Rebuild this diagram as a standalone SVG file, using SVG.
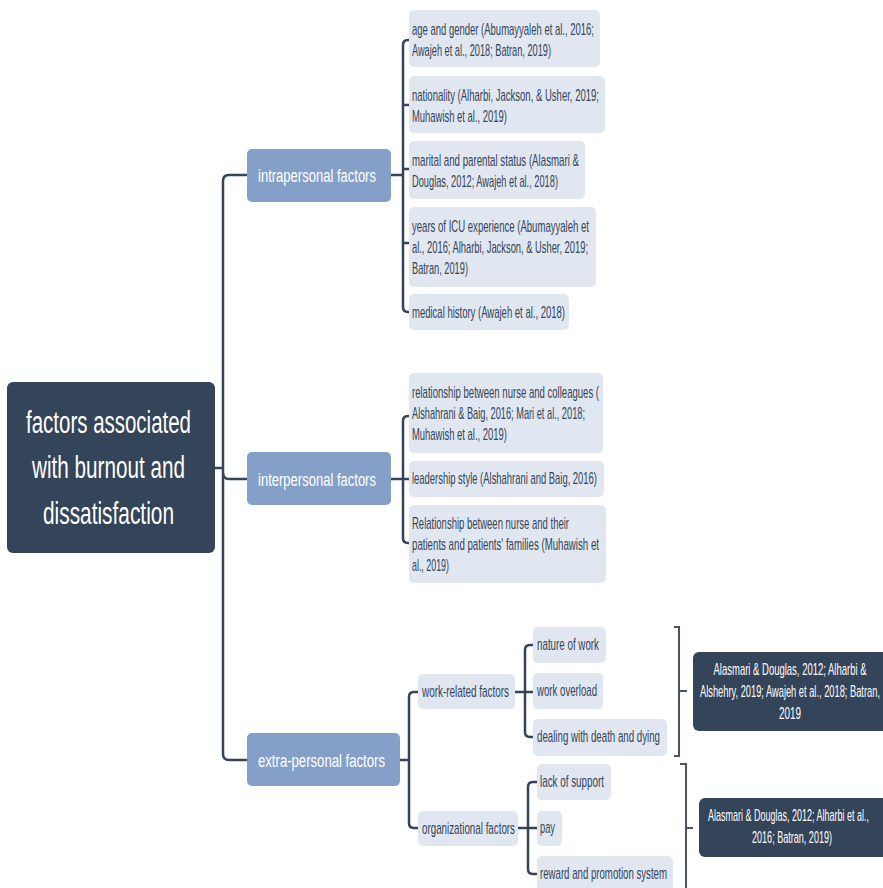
<svg xmlns="http://www.w3.org/2000/svg" width="883" height="888" viewBox="0 0 883 888">
<style>
.root{fill:#344459}
.l1{fill:#84A0C8}
.l2{fill:#E1E7F0}
.sum{fill:#344459}
text{font-family:"Liberation Sans",Arial,sans-serif}
.tr{fill:#ffffff;font-size:31px;text-anchor:middle}
.t1{fill:#ffffff;font-size:19px}
.t2{fill:#344459;font-size:16px}
.ts{fill:#ffffff;font-size:16px;text-anchor:middle}
.c{fill:none;stroke:#344459;stroke-width:2.5;stroke-linecap:butt;stroke-linejoin:round}
.b{fill:none;stroke:#4A5568;stroke-width:2}
</style>
<rect width="883" height="888" fill="#ffffff"/>
<g id="connectors">
<path class="c" d="M214 468 H223"/>
<path class="c" d="M247 175 H229 Q223 175 223 181 V754 Q223 760 229 760 H247"/>
<path class="c" d="M223 473 Q223 479 229 479 H247"/>
<path class="c" d="M391 175 H403"/>
<path class="c" d="M409 40 H408 Q403 40 403 45 V307 Q403 312 408 312 H409"/>
<path class="c" d="M403 105 H409 M403 169 H409 M403 243 H409"/>
<path class="c" d="M391 479 H409"/>
<path class="c" d="M409 416 H408 Q403 416 403 421 V538 Q403 543 408 543 H409"/>
<path class="c" d="M400 760 H409"/>
<path class="c" d="M418 692 H414 Q409 692 409 697 V823 Q409 828 414 828 H418"/>
<path class="c" d="M515 692 H533"/>
<path class="c" d="M533 645 H530 Q525 645 525 650 V732 Q525 737 530 737 H533"/>
<path class="c" d="M518 828 H537"/>
<path class="c" d="M537 782 H533 Q528 782 528 787 V869 Q528 874 533 874 H537"/>
<path class="b" d="M674 627 H679 V756 H674 M679 691 H687"/>
<path class="b" d="M680 764 H686 V895 M686 828 H693"/>
</g>
<g id="root">
<rect class="root" x="7" y="382" width="208" height="171" rx="6"/>
<text class="tr" transform="translate(108.5 433) scale(0.6 1)" textLength="275" lengthAdjust="spacingAndGlyphs">factors associated</text>
<text class="tr" transform="translate(108.5 478) scale(0.6 1)" textLength="255" lengthAdjust="spacingAndGlyphs">with burnout and</text>
<text class="tr" transform="translate(108.5 524) scale(0.6 1)" textLength="218.3" lengthAdjust="spacingAndGlyphs">dissatisfaction</text>
</g>
<g id="intrapersonal">
<rect class="l1" x="247" y="149" width="144" height="53" rx="5"/>
<text class="t1" transform="translate(258 182) scale(0.65 1)" textLength="181.5" lengthAdjust="spacingAndGlyphs">intrapersonal factors</text>
</g>
<g id="interpersonal">
<rect class="l1" x="247" y="452" width="144" height="53" rx="5"/>
<text class="t1" transform="translate(258 486) scale(0.65 1)" textLength="181.5" lengthAdjust="spacingAndGlyphs">interpersonal factors</text>
</g>
<g id="extrapersonal">
<rect class="l1" x="247" y="733" width="153" height="53" rx="5"/>
<text class="t1" transform="translate(258 767) scale(0.65 1)" textLength="195.4" lengthAdjust="spacingAndGlyphs">extra-personal factors</text>
</g>
<g id="age">
<rect class="l2" x="409" y="10" width="191" height="57" rx="5"/>
<text class="t2" transform="translate(412 35) scale(0.6 1)" textLength="303.3" lengthAdjust="spacingAndGlyphs">age and gender (Abumayyaleh et al., 2016;</text>
<text class="t2" transform="translate(412 56) scale(0.6 1)" textLength="231.7" lengthAdjust="spacingAndGlyphs">Awajeh et al., 2018; Batran, 2019)</text>
</g>
<g id="nationality">
<rect class="l2" x="409" y="76" width="196" height="57" rx="5"/>
<text class="t2" transform="translate(412 101) scale(0.6 1)" textLength="311.7" lengthAdjust="spacingAndGlyphs">nationality (Alharbi, Jackson, &amp; Usher, 2019;</text>
<text class="t2" transform="translate(412 122) scale(0.6 1)" textLength="158.3" lengthAdjust="spacingAndGlyphs">Muhawish et al., 2019)</text>
</g>
<g id="marital">
<rect class="l2" x="409" y="141" width="176" height="58" rx="5"/>
<text class="t2" transform="translate(412 166) scale(0.6 1)" textLength="278.3" lengthAdjust="spacingAndGlyphs">marital and parental status (Alasmari &amp;</text>
<text class="t2" transform="translate(412 187) scale(0.6 1)" textLength="243.3" lengthAdjust="spacingAndGlyphs">Douglas, 2012; Awajeh et al., 2018)</text>
</g>
<g id="years">
<rect class="l2" x="409" y="207" width="187" height="80" rx="5"/>
<text class="t2" transform="translate(412 232) scale(0.6 1)" textLength="295" lengthAdjust="spacingAndGlyphs">years of ICU experience (Abumayyaleh et</text>
<text class="t2" transform="translate(412 253) scale(0.6 1)" textLength="293.3" lengthAdjust="spacingAndGlyphs">al., 2016; Alharbi, Jackson, &amp; Usher, 2019;</text>
<text class="t2" transform="translate(412 274) scale(0.6 1)" textLength="93.3" lengthAdjust="spacingAndGlyphs">Batran, 2019)</text>
</g>
<g id="medical">
<rect class="l2" x="409" y="294" width="160" height="36" rx="5"/>
<text class="t2" transform="translate(412 318) scale(0.6 1)" textLength="255" lengthAdjust="spacingAndGlyphs">medical history (Awajeh et al., 2018)</text>
</g>
<g id="colleagues">
<rect class="l2" x="409" y="373" width="194" height="80" rx="5"/>
<text class="t2" transform="translate(412 398) scale(0.6 1)" textLength="311.7" lengthAdjust="spacingAndGlyphs">relationship between nurse and colleagues (</text>
<text class="t2" transform="translate(412 419) scale(0.6 1)" textLength="288.3" lengthAdjust="spacingAndGlyphs">Alshahrani &amp; Baig, 2016; Mari et al., 2018;</text>
<text class="t2" transform="translate(412 440) scale(0.6 1)" textLength="158.3" lengthAdjust="spacingAndGlyphs">Muhawish et al., 2019)</text>
</g>
<g id="leadership">
<rect class="l2" x="409" y="461" width="195" height="36" rx="5"/>
<text class="t2" transform="translate(412 484) scale(0.6 1)" textLength="308.3" lengthAdjust="spacingAndGlyphs">leadership style (Alshahrani and Baig, 2016)</text>
</g>
<g id="patients">
<rect class="l2" x="409" y="505" width="197" height="78" rx="5"/>
<text class="t2" transform="translate(412 529) scale(0.6 1)" textLength="261.7" lengthAdjust="spacingAndGlyphs">Relationship between nurse and their</text>
<text class="t2" transform="translate(412 550) scale(0.6 1)" textLength="311.7" lengthAdjust="spacingAndGlyphs">patients and patients' families (Muhawish et</text>
<text class="t2" transform="translate(412 571) scale(0.6 1)" textLength="61.7" lengthAdjust="spacingAndGlyphs">al., 2019)</text>
</g>
<g id="workrelated">
<rect class="l2" x="418" y="674" width="97" height="35" rx="5"/>
<text class="t2" transform="translate(422 697) scale(0.6 1)" textLength="145" lengthAdjust="spacingAndGlyphs">work-related factors</text>
</g>
<g id="organizational">
<rect class="l2" x="418" y="811" width="100" height="35" rx="5"/>
<text class="t2" transform="translate(422 834) scale(0.6 1)" textLength="155" lengthAdjust="spacingAndGlyphs">organizational factors</text>
</g>
<g id="nature">
<rect class="l2" x="533" y="627" width="73" height="36" rx="5"/>
<text class="t2" transform="translate(537 650) scale(0.6 1)" textLength="103.3" lengthAdjust="spacingAndGlyphs">nature of work</text>
</g>
<g id="overload">
<rect class="l2" x="533" y="673" width="70" height="36" rx="5"/>
<text class="t2" transform="translate(537 696) scale(0.6 1)" textLength="100" lengthAdjust="spacingAndGlyphs">work overload</text>
</g>
<g id="death">
<rect class="l2" x="533" y="719" width="134" height="37" rx="5"/>
<text class="t2" transform="translate(537 742) scale(0.6 1)" textLength="205" lengthAdjust="spacingAndGlyphs">dealing with death and dying</text>
</g>
<g id="support">
<rect class="l2" x="537" y="764" width="74" height="36" rx="5"/>
<text class="t2" transform="translate(540 787) scale(0.6 1)" textLength="106.7" lengthAdjust="spacingAndGlyphs">lack of support</text>
</g>
<g id="pay">
<rect class="l2" x="537" y="811" width="25" height="35" rx="5"/>
<text class="t2" transform="translate(540 833) scale(0.6 1)" textLength="25" lengthAdjust="spacingAndGlyphs">pay</text>
</g>
<g id="reward">
<rect class="l2" x="537" y="856" width="136" height="36" rx="5"/>
<text class="t2" transform="translate(540 879) scale(0.6 1)" textLength="211.7" lengthAdjust="spacingAndGlyphs">reward and promotion system</text>
</g>
<g id="summary1">
<rect class="sum" x="693" y="652" width="190" height="79" rx="6"/>
<rect class="sum" x="870" y="652" width="13" height="79"/>
<text class="ts" transform="translate(790 675) scale(0.6 1)" textLength="255" lengthAdjust="spacingAndGlyphs">Alasmari &amp; Douglas, 2012; Alharbi &amp;</text>
<text class="ts" transform="translate(790 697) scale(0.52 1)" textLength="346" lengthAdjust="spacingAndGlyphs">Alshehry, 2019; Awajeh et al., 2018; Batran,</text>
<text class="ts" transform="translate(790 719) scale(0.6 1)" textLength="36.7" lengthAdjust="spacingAndGlyphs">2019</text>
</g>
<g id="summary2">
<rect class="sum" x="699" y="798" width="184" height="59" rx="6"/>
<rect class="sum" x="870" y="798" width="13" height="59"/>
<text class="ts" transform="translate(788.5 821) scale(0.6 1)" textLength="268.3" lengthAdjust="spacingAndGlyphs">Alasmari &amp; Douglas, 2012; Alharbi et al.,</text>
<text class="ts" transform="translate(792 843) scale(0.6 1)" textLength="133.3" lengthAdjust="spacingAndGlyphs">2016; Batran, 2019)</text>
</g>
</svg>
